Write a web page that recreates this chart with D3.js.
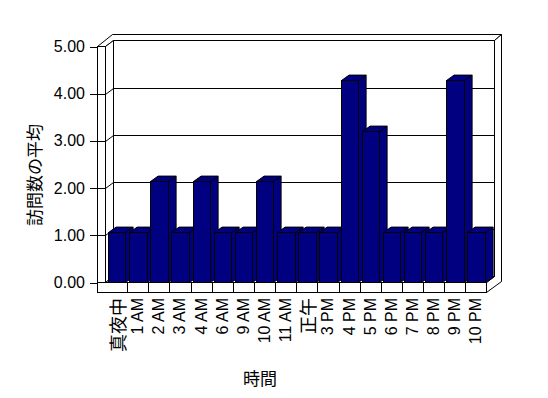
<!DOCTYPE html>
<html>
<head>
<meta charset="utf-8">
<script src="https://cdn.jsdelivr.net/npm/d3@7"></script>
<style>
  html, body { margin: 0; padding: 0; background: #fff; }
  svg { display: block; }
</style>
</head>
<body>
<svg id="chart" width="548" height="398"></svg>
<script>
// ---- data ----
const categories = ["真夜中", "1 AM", "2 AM", "3 AM", "4 AM", "6 AM", "9 AM", "10 AM", "11 AM", "正午",
                    "3 PM", "4 PM", "5 PM", "6 PM", "7 PM", "8 PM", "9 PM", "10 PM"];
const values = [1, 1, 2, 1, 2, 1, 1, 2, 1, 1, 1, 4, 3, 1, 1, 1, 4, 1];
const yTicks = [0, 1, 2, 3, 4, 5];
const yTitle = "訪問数の平均";
const xTitle = "時間";

// ---- layout ----
const svg = d3.select("#chart");
const wallOuterX = 97.5, wallInnerX = 105.5;
const floorTop = 282.5, floorBottom = 292.5, wallTop = 46.5;
const floorRight = 486.5;
const d1 = [8, -6];   // depth front -> back wall face
const d2 = [7, -6];   // back wall thickness
const bd = [7.6, -5.4]; // bar depth

const x = d3.scaleBand().domain(categories).range([106, floorRight]).paddingInner(0).paddingOuter(0);
const yAxis = d3.scaleLinear().domain([0, 5]).range([floorTop, wallTop]);
const yBar = d3.scaleLinear().domain([0, 5]).range([floorTop, floorTop - 253]);

const g = svg.append("g").attr("fill", "#fff").attr("stroke", "#000").attr("stroke-width", 1);

const pts = a => a.map(p => p.join(",")).join(" ");

// back wall front face
const bwL = wallInnerX + d1[0], bwR = floorRight + d1[0];
const bwT = wallTop + d1[1], bwB = floorTop + d1[1];
g.append("rect").attr("x", bwL).attr("y", bwT).attr("width", bwR - bwL).attr("height", bwB - bwT);

// top of walls (left wall top + back wall top)
g.append("polygon").attr("points", pts([
  [wallOuterX, wallTop], [wallInnerX, wallTop], [bwL, bwT], [bwR, bwT],
  [bwR + d2[0], bwT + d2[1]], [wallOuterX + d1[0] + d2[0], wallTop + d1[1] + d2[1]]
]));

// right end face of back wall + floor
g.append("polygon").attr("points", pts([
  [floorRight, floorTop], [bwR, bwB], [bwR, bwT], [bwR + d2[0], bwT + d2[1]],
  [bwR + d2[0], floorBottom + d1[1] + d2[1] + 1], [floorRight, floorBottom]
]));
g.append("line").attr("x1", bwR).attr("y1", bwB).attr("x2", bwR).attr("y2", bwT);

// left wall inner face
g.append("polygon").attr("points", pts([
  [wallInnerX, wallTop], [bwL, bwT], [bwL, bwB], [wallInnerX, floorTop]
]));
// left wall front face
g.append("rect").attr("x", wallOuterX).attr("y", wallTop).attr("width", wallInnerX - wallOuterX).attr("height", floorTop - wallTop);

// floor top
g.append("polygon").attr("points", pts([
  [wallInnerX, floorTop], [bwL, bwB], [bwR, bwB], [floorRight, floorTop]
]));
// floor front face
g.append("rect").attr("x", wallOuterX).attr("y", floorTop).attr("width", floorRight - wallOuterX).attr("height", floorBottom - floorTop);

// gridlines + ticks
const gridTicks = yTicks.filter(v => v > 0 && v < 5);
gridTicks.forEach(v => {
  const yy = Math.round(yAxis(v)) + 0.5;
  g.append("line").attr("x1", bwL).attr("x2", bwR).attr("y1", yy + d1[1]).attr("y2", yy + d1[1]);
  g.append("line").attr("x1", wallInnerX).attr("y1", yy).attr("x2", bwL).attr("y2", yy + d1[1]);
  g.append("line").attr("x1", wallOuterX).attr("x2", wallInnerX).attr("y1", yy).attr("y2", yy);
});
yTicks.forEach(v => {
  const yy = Math.round(yAxis(v)) + 0.5;
  g.append("line").attr("x1", 90).attr("x2", wallOuterX).attr("y1", yy).attr("y2", yy);
});

// category dividers on floor front
categories.forEach((c, i) => {
  if (i === 0) return;
  const xx = Math.round(x(c)) + 0.5;
  g.append("line").attr("x1", xx).attr("x2", xx).attr("y1", floorTop).attr("y2", floorBottom);
});

// bars
const barOff = 2, barW = 17.4;
const bars = svg.append("g").attr("fill", "#000080").attr("stroke", "#000").attr("stroke-width", 1)
  .attr("stroke-linejoin", "miter");
categories.forEach((c, i) => {
  const x0 = Math.round(x(c) + barOff) + 0.5;
  const x1 = Math.round(x(c) + barOff + barW) + 0.5;
  const top = Math.round(yBar(values[i])) + 0.5;
  const bot = floorTop;
  bars.append("polygon").attr("points", pts([
    [x1, top], [x1 + bd[0], top + bd[1]], [x1 + bd[0], bot + bd[1]], [x1, bot]
  ]));
  bars.append("polygon").attr("points", pts([
    [x0, top], [x0 + bd[0], top + bd[1]], [x1 + bd[0], top + bd[1]], [x1, top]
  ]));
  bars.append("rect").attr("x", x0).attr("y", top).attr("width", x1 - x0).attr("height", bot - top);
});

// y tick labels
const latin = "'Liberation Sans', Arial, sans-serif";
const cjk = "'Noto Sans CJK JP', 'Noto Sans CJK SC', sans-serif";
svg.append("g").selectAll("text").data(yTicks).join("text")
  .attr("x", 85).attr("y", d => yAxis(d))
  .attr("text-anchor", "end").attr("dominant-baseline", "central")
  .attr("font-family", latin).attr("font-size", 16).attr("fill", "#000")
  .text(d => d.toFixed(2));

// x tick labels
const isCJK = s => /[\u3000-\u9fff]/.test(s);
svg.append("g").selectAll("text").data(categories).join("text")
  .attr("transform", d => `translate(${x(d) + x.bandwidth() / 2},298) rotate(-90)`)
  .attr("text-anchor", "end").attr("dominant-baseline", "central")
  .attr("font-family", d => isCJK(d) ? cjk : latin)
  .attr("font-size", d => isCJK(d) ? 18 : 16).attr("fill", "#000")
  .text(d => d);

// axis titles
svg.append("text")
  .attr("transform", "translate(33,175) rotate(-90)")
  .attr("text-anchor", "middle").attr("dominant-baseline", "central")
  .attr("font-family", cjk).attr("font-size", 17).attr("fill", "#000")
  .text(yTitle);
svg.append("text")
  .attr("x", 260).attr("y", 377)
  .attr("text-anchor", "middle").attr("dominant-baseline", "central")
  .attr("font-family", cjk).attr("font-size", 17).attr("fill", "#000")
  .text(xTitle);
</script>
</body>
</html>
